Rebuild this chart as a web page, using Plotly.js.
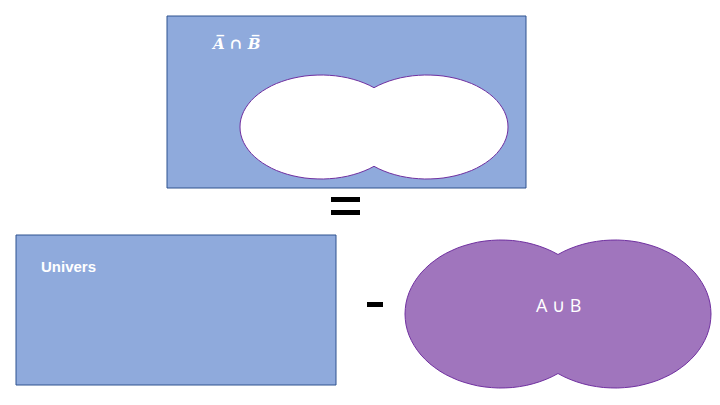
<!DOCTYPE html>
<html>
<head>
<script src="https://cdn.plot.ly/plotly-3.0.1.min.js"></script>
<style>body{margin:0}#plot{width:720px;height:405px}</style>
</head>
<body>
<div id="plot"></div>
<script>
// boxes: [x0, y0, x1, y1] in picture pixels
var boxTop = [167, 16, 526, 188];
var boxUnivers = [16, 235, 336, 385];
// blobs: [left centre x, right centre x, centre y, rx, ry]
var blobTop = [321, 427, 127, 81, 52];
var blobUnion = [501, 615, 314, 96, 74];
var labels = ['<b><i>A\u0305 \u2229 B\u0305</i></b>', '<b>Univers</b>', 'A \u222A B'];

function blobPath(b) {
  var cl = b[0], cr = b[1], cy = b[2], rx = b[3], ry = b[4];
  var mid = (cl + cr) / 2;
  var t0 = Math.acos((mid - cl) / rx);
  var pts = [];
  var n = 60, i, t;
  // left ellipse, from top pinch round the left to bottom pinch
  for (i = 0; i <= n; i++) {
    t = t0 + (2 * Math.PI - 2 * t0) * i / n;
    pts.push([cl + rx * Math.cos(t), cy - ry * Math.sin(t)]);
  }
  // right ellipse, from bottom pinch round the right to top pinch
  for (i = 0; i <= n; i++) {
    t = Math.PI + t0 + (2 * Math.PI - 2 * t0) * i / n;
    pts.push([cr + rx * Math.cos(t), cy - ry * Math.sin(t)]);
  }
  return 'M' + pts.map(function (p) { return p[0].toFixed(1) + ',' + p[1].toFixed(1); }).join('L') + 'Z';
}

function rect(b) {
  return {type: 'rect', x0: b[0], y0: b[1], x1: b[2], y1: b[3],
    fillcolor: '#8faadc', line: {color: '#2f528f', width: 1}, layer: 'below'};
}

var shapes = [
  rect(boxTop),
  rect(boxUnivers),
  {type: 'path', path: blobPath(blobTop), fillcolor: '#ffffff', line: {color: '#7030a0', width: 1}},
  {type: 'path', path: blobPath(blobUnion), fillcolor: '#a075bd', line: {color: '#7030a0', width: 1}},
  // equals sign
  {type: 'rect', x0: 331, x1: 360, y0: 197, y1: 202, fillcolor: '#000', line: {width: 0}},
  {type: 'rect', x0: 331, x1: 360, y0: 210, y1: 215, fillcolor: '#000', line: {width: 0}},
  // minus sign
  {type: 'rect', x0: 367, x1: 383, y0: 302, y1: 307, fillcolor: '#000', line: {width: 0}}
];

var annotations = [
  {x: 209, y: 43, text: labels[0], xanchor: 'left', font: {size: 15, color: '#fff', family: 'DejaVu Serif'}},
  {x: 39, y: 266, text: labels[1], xanchor: 'left', font: {size: 15, color: '#fff', family: 'Liberation Sans'}},
  {x: 558, y: 305, text: labels[2], font: {size: 18, color: '#fff', family: 'Open Sans'}}
];
annotations.forEach(function (a) { a.showarrow = false; a.xref = 'x'; a.yref = 'y'; });

var layout = {
  width: 720, height: 405,
  margin: {l: 0, r: 0, t: 0, b: 0},
  paper_bgcolor: '#fff', plot_bgcolor: '#fff',
  xaxis: {range: [0, 720], visible: false, fixedrange: true},
  yaxis: {range: [405, 0], visible: false, fixedrange: true},
  shapes: shapes,
  annotations: annotations,
  showlegend: false
};

Plotly.newPlot('plot', [{x: [], y: [], type: 'scatter'}], layout, {displayModeBar: false, staticPlot: true});
</script>
</body>
</html>
